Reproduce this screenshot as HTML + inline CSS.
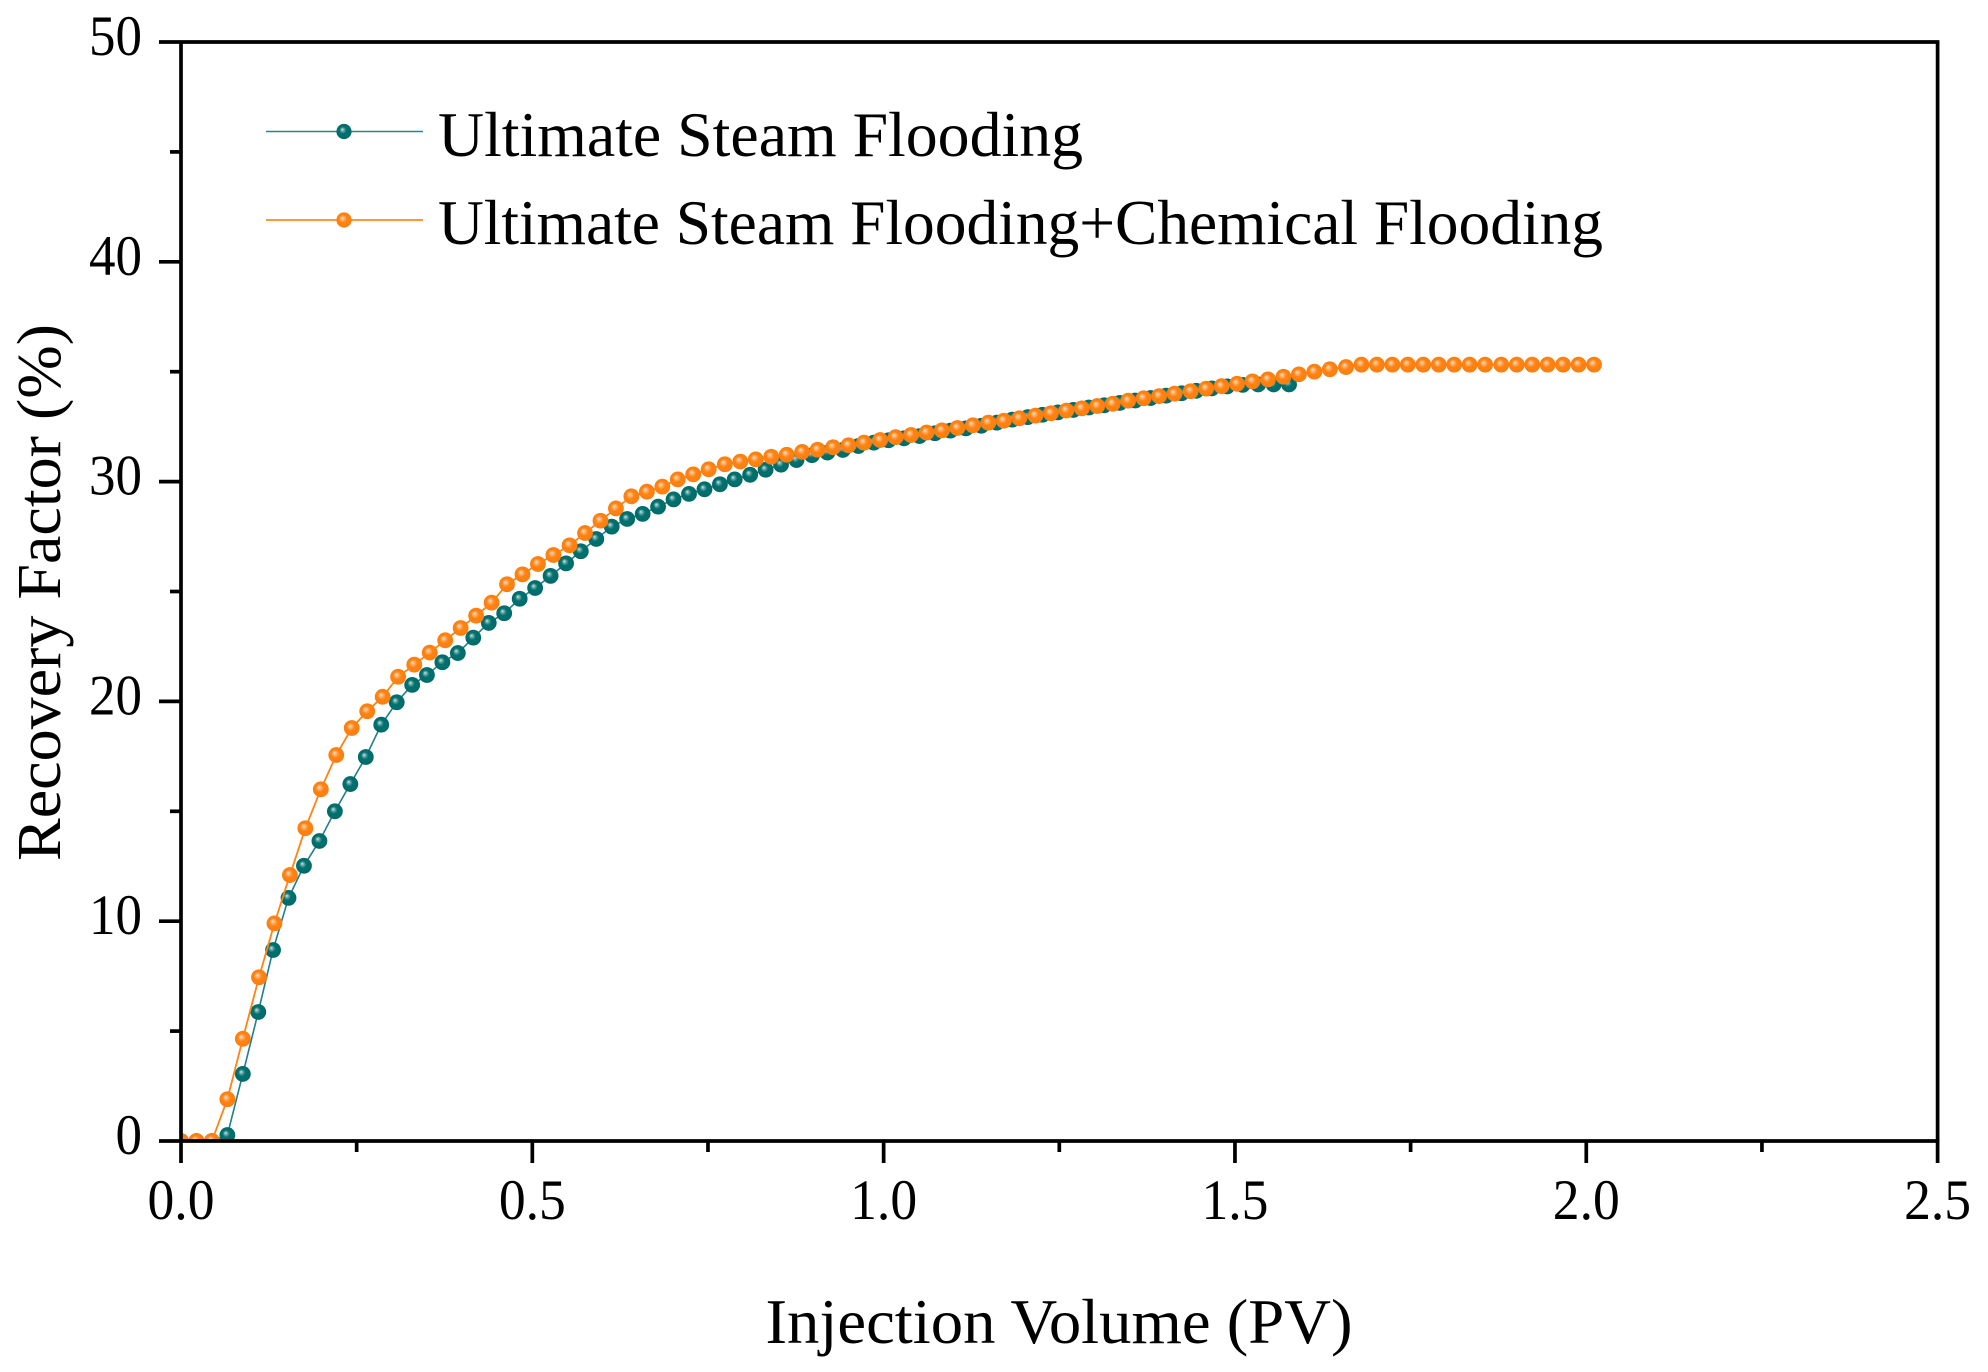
<!DOCTYPE html>
<html lang="en">
<head>
<meta charset="utf-8">
<title>Recovery Factor vs Injection Volume</title>
<style>
html,body{margin:0;padding:0;background:#fff;}
body{width:1988px;height:1372px;overflow:hidden;}
svg{display:block;}
text{font-family:"Liberation Serif",serif;fill:#000;}
</style>
</head>
<body>
<svg id="chart" xmlns="http://www.w3.org/2000/svg" width="1988" height="1372" viewBox="0 0 1988 1372">
  <defs>
    <radialGradient id="ball-teal" cx="0.5" cy="0.5" r="0.55" fx="0.38" fy="0.36">
      <stop offset="0" stop-color="#d4e6e4"/>
      <stop offset="0.2" stop-color="#5fa5a3"/>
      <stop offset="0.42" stop-color="#00716f"/>
      <stop offset="1" stop-color="#006a68"/>
    </radialGradient>
    <radialGradient id="ball-orange" cx="0.5" cy="0.5" r="0.55" fx="0.38" fy="0.36">
      <stop offset="0" stop-color="#ffe0c8"/>
      <stop offset="0.22" stop-color="#ffb06a"/>
      <stop offset="0.46" stop-color="#ff8312"/>
      <stop offset="1" stop-color="#fb7d0e"/>
    </radialGradient>
    <clipPath id="plot-clip"><rect x="181" y="42" width="1757" height="1099"/></clipPath>
  </defs>
  <rect x="0" y="0" width="1988" height="1372" fill="#fff"/>
  <g id="series-layer" clip-path="url(#plot-clip)"></g>
  <g id="axis-layer"></g>

  <g>
    <g>
      <line x1="266" x2="423" y1="131.5" y2="131.5" stroke="#2b8296" stroke-width="1.5"/>
      <circle cx="344" cy="131.5" r="7.6" fill="url(#ball-teal)"/>
      <text x="438" y="156" font-size="63" textLength="645" lengthAdjust="spacingAndGlyphs">Ultimate Steam Flooding</text>
    </g>
    <g>
      <line x1="266" x2="423" y1="220" y2="220" stroke="#ff8a1e" stroke-width="1.7"/>
      <circle cx="344" cy="220" r="7.6" fill="url(#ball-orange)"/>
      <text x="438" y="244" font-size="63" textLength="1165" lengthAdjust="spacingAndGlyphs">Ultimate Steam Flooding+Chemical Flooding</text>
    </g>
  </g>

  <text x="1059" y="1343" font-size="63" text-anchor="middle" textLength="587" lengthAdjust="spacingAndGlyphs">Injection Volume (PV)</text>
  <text transform="translate(60 592.5) rotate(-90)" x="0" y="0" font-size="62" text-anchor="middle" textLength="537" lengthAdjust="spacingAndGlyphs">Recovery Factor (%)</text>
</svg>

<script>
const xMajorTicks = [0.0, 0.5, 1.0, 1.5, 2.0, 2.5];
const xMajorLabels = ["0.0", "0.5", "1.0", "1.5", "2.0", "2.5"];
const xMinorTicks = [0.25, 0.75, 1.25, 1.75, 2.25];
const yMajorTicks = [0, 10, 20, 30, 40, 50];
const yMajorLabels = ["0", "10", "20", "30", "40", "50"];
const yMinorTicks = [5, 15, 25, 35, 45];

const steamPV = [0,0.022,0.044,0.066,0.088,0.110,0.131,0.153,0.175,0.197,0.219,0.241,0.263,0.285,0.307,0.329,0.350,0.372,0.394,0.416,0.438,0.460,0.482,0.504,0.526,0.548,0.569,0.591,0.613,0.635,0.657,0.679,0.701,0.723,0.745,0.767,0.788,0.810,0.832,0.854,0.876,0.898,0.920,0.942,0.964,0.986,1.007,1.029,1.051,1.073,1.095,1.117,1.139,1.161,1.183,1.205,1.226,1.248,1.270,1.292,1.314,1.336,1.358,1.380,1.402,1.424,1.445,1.467,1.489,1.511,1.533,1.555,1.577];
const steamRF = [0,0,0,0.27,3.05,5.87,8.69,11.06,12.52,13.65,15.00,16.24,17.47,18.94,19.96,20.75,21.20,21.78,22.20,22.90,23.57,24.01,24.67,25.16,25.71,26.28,26.83,27.39,27.95,28.30,28.53,28.86,29.19,29.44,29.65,29.88,30.10,30.31,30.54,30.77,30.98,31.20,31.32,31.44,31.62,31.77,31.88,31.97,32.07,32.20,32.32,32.42,32.54,32.68,32.82,32.93,33.04,33.15,33.26,33.37,33.47,33.58,33.69,33.80,33.91,34.02,34.13,34.24,34.33,34.40,34.42,34.42,34.42];

const chemicalPV = [0,0.022,0.044,0.066,0.088,0.111,0.133,0.155,0.177,0.199,0.221,0.243,0.265,0.287,0.309,0.332,0.354,0.376,0.398,0.420,0.442,0.464,0.486,0.508,0.530,0.553,0.575,0.597,0.619,0.641,0.663,0.685,0.707,0.729,0.751,0.774,0.796,0.818,0.840,0.862,0.884,0.906,0.928,0.950,0.972,0.995,1.017,1.039,1.061,1.083,1.105,1.127,1.149,1.171,1.193,1.216,1.238,1.260,1.282,1.304,1.326,1.348,1.370,1.392,1.414,1.437,1.459,1.481,1.503,1.525,1.547,1.569,1.591,1.613,1.635,1.658,1.680,1.702,1.724,1.746,1.768,1.790,1.812,1.834,1.856,1.879,1.901,1.923,1.945,1.967,1.989,2.011];
const chemicalRF = [0,0,0,1.90,4.65,7.45,9.90,12.10,14.23,16.00,17.56,18.79,19.55,20.21,21.12,21.67,22.22,22.78,23.34,23.90,24.49,25.33,25.78,26.25,26.66,27.10,27.66,28.22,28.78,29.33,29.54,29.77,30.10,30.33,30.56,30.79,30.91,31.01,31.13,31.22,31.35,31.45,31.56,31.65,31.77,31.89,32.02,32.12,32.23,32.33,32.44,32.56,32.68,32.77,32.88,33.00,33.11,33.23,33.33,33.44,33.54,33.68,33.79,33.89,34.00,34.11,34.23,34.34,34.45,34.56,34.65,34.77,34.88,35.00,35.11,35.21,35.32,35.32,35.32,35.32,35.32,35.32,35.32,35.32,35.32,35.32,35.32,35.32,35.32,35.32,35.32,35.32];

const SVG_NS = "http://www.w3.org/2000/svg";
const plotLeft = 181, plotRight = 1937.6, plotTop = 42, plotBottom = 1141;
const xMax = 2.5, yMax = 50;
function xScale(v) { return plotLeft + (v / xMax) * (plotRight - plotLeft); }
function yScale(v) { return plotBottom - (v / yMax) * (plotBottom - plotTop); }

function make(tag, attrs) {
  const el = document.createElementNS(SVG_NS, tag);
  for (const k in attrs) el.setAttribute(k, attrs[k]);
  return el;
}

const seriesLayer = document.getElementById("series-layer");
const axisLayer = document.getElementById("axis-layer");

function drawSeries(key, xs, ys, lineColor, lineWidth, gradient) {
  const group = make("g", {});
  
  
  const pts = xs.map(function (x, i) { return xScale(x).toFixed(2) + "," + yScale(ys[i]).toFixed(2); }).join(" ");
  const line = make("polyline", { points: pts, fill: "none", stroke: lineColor, "stroke-width": lineWidth });
  
  
  group.appendChild(line);
  xs.forEach(function (x, i) {
    const c = make("circle", { cx: xScale(x).toFixed(2), cy: yScale(ys[i]).toFixed(2), r: 7.9, fill: "url(#" + gradient + ")" });
    
    
    group.appendChild(c);
  });
  seriesLayer.appendChild(group);
}

drawSeries("steam", steamPV, steamRF, "#1f7f8c", 1.6, "ball-teal");
drawSeries("steam-chemical", chemicalPV, chemicalRF, "#ff8312", 1.8, "ball-orange");

function axisLine(x1, y1, x2, y2, name) {
  const l = make("line", { x1: x1, y1: y1, x2: x2, y2: y2, stroke: "#000", "stroke-width": 3.7 });
  
  
  axisLayer.appendChild(l);
}

function tickLabel(str, x, y, anchor, width, name) {
  const t = make("text", { x: x, y: y, "font-size": 57, "text-anchor": anchor, textLength: width, lengthAdjust: "spacingAndGlyphs" });
  t.textContent = str;
  
  
  axisLayer.appendChild(t);
}

axisLine(plotLeft - 22, plotTop, plotRight + 1.8, plotTop, "top-axis-line");
axisLine(plotLeft - 22, plotBottom, plotRight + 1.8, plotBottom, "x-axis-line");
axisLine(plotLeft, plotTop, plotLeft, plotBottom + 22, "y-axis-line");
axisLine(plotRight, plotTop, plotRight, plotBottom + 22, "right-axis-line");

xMajorTicks.forEach(function (v, i) {
  const x = xScale(v);
  if (i > 0 && i < xMajorTicks.length - 1) axisLine(x, plotBottom, x, plotBottom + 22, "x-major-tick");
  tickLabel(xMajorLabels[i], x, 1219, "middle", 67, "x-tick-label");
});
xMinorTicks.forEach(function (v) {
  const x = xScale(v);
  axisLine(x, plotBottom, x, plotBottom + 11, "x-minor-tick");
});
yMajorTicks.forEach(function (v, i) {
  const y = yScale(v);
  if (i > 0 && i < yMajorTicks.length - 1) axisLine(plotLeft - 22, y, plotLeft, y, "y-major-tick");
  const label = yMajorLabels[i];
  tickLabel(label, 142, y + 13, "end", label.length * 26.5, "y-tick-label");
});
yMinorTicks.forEach(function (v) {
  const y = yScale(v);
  axisLine(plotLeft - 11, y, plotLeft, y, "y-minor-tick");
});
</script>
</body>
</html>
